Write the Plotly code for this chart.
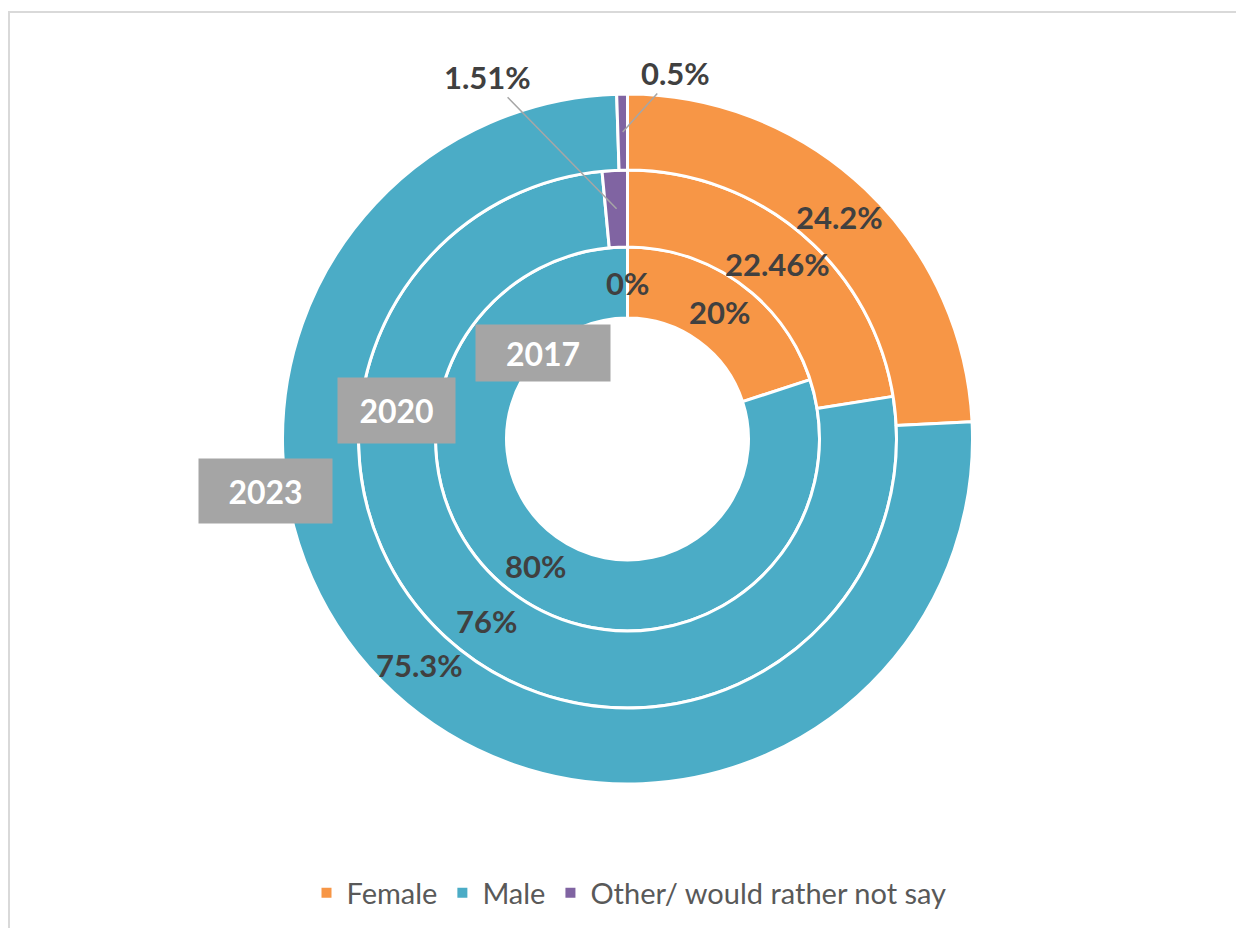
import numpy as np
import plotly.graph_objects as go

# data
categories = ["Female", "Male", "Other/ would rather not say"]
years = ["2017", "2020", "2023"]
share_2017 = [20, 80, 0]
share_2020 = [22.46, 76, 1.51]
share_2023 = [24.2, 75.3, 0.5]

colors = ["#F79646", "#4BACC6", "#8064A2"]

W, H = 1244, 928
OFF = 8                      # the page body adds an 8px margin
CX, CY = 627.5 - OFF, 439 - OFF   # centre of the rings, px
edges = [121, 192, 269, 345]  # hole, ring boundaries, px

LABEL_FONT = dict(family="Lato", size=31, color="#404040")


def px_x(x):
    return x / W


def px_y(y):
    return 1 - y / H


fig = go.Figure()

all_shares = [share_2017, share_2020, share_2023]
for i, (year, vals) in enumerate(zip(years, all_shares)):
    r_in, r_out = edges[i], edges[i + 1]
    fig.add_trace(go.Pie(
        labels=categories, values=vals, name=year,
        sort=False, direction="clockwise", rotation=0,
        hole=r_in / r_out,
        marker=dict(colors=colors, line=dict(color="white", width=3)),
        textinfo="none", hoverinfo="label+value",
        domain=dict(x=[px_x(CX - r_out), px_x(CX + r_out)],
                    y=[px_y(CY + r_out), px_y(CY - r_out)]),
    ))

# data labels, placed at the middle of each slice
# (small slices get a label outside with a leader line)
outside_offsets = {(1, 2): (-129, -132), (2, 2): (53, -59)}
for i, vals in enumerate(all_shares):
    r_mid = (edges[i] + edges[i + 1]) / 2
    total = sum(vals)
    cum = np.cumsum(vals)
    for j, v in enumerate(vals):
        ang = np.radians((cum[j] - v / 2) / total * 360)
        x = CX + r_mid * np.sin(ang)
        y = CY - r_mid * np.cos(ang)
        txt = f"<b>{v:g}%</b>"
        if (i, j) in outside_offsets:
            ax, ay = outside_offsets[(i, j)]
            fig.add_annotation(x=px_x(x), y=px_y(y), xref="paper", yref="paper",
                               text=txt, showarrow=True, arrowhead=0,
                               arrowwidth=1.5, arrowcolor="#A6A6A6",
                               ax=ax, ay=ay, font=LABEL_FONT)
        else:
            fig.add_annotation(x=px_x(x), y=px_y(y), xref="paper", yref="paper",
                               xanchor="center", yanchor="middle",
                               text=txt, showarrow=False, font=LABEL_FONT)

# year tags
tag_boxes = {"2017": (543, 353, 134, 56), "2020": (396, 411, 117, 65), "2023": (265, 491, 133, 64)}
for year in years:
    x, y, w, h = tag_boxes[year]
    fig.add_annotation(x=px_x(x - OFF), y=px_y(y - OFF), xref="paper", yref="paper",
                       xanchor="center", yanchor="middle",
                       text=f"<b>{year}</b>", showarrow=False,
                       width=w, height=h, borderpad=0, bgcolor="#A5A5A5",
                       font=dict(family="Lato", size=32, color="white"))

# chart frame (only left and top edges are inside the picture)
fig.add_shape(type="rect", xref="paper", yref="paper",
              x0=px_x(9 - OFF), x1=1.02, y0=-0.02, y1=px_y(12 - OFF),
              line=dict(color="#D9D9D9", width=2), layer="below")

fig.update_layout(
    width=W, height=H,
    margin=dict(l=0, r=0, t=0, b=0, autoexpand=False),
    paper_bgcolor="white", plot_bgcolor="white",
    showlegend=True,
    legend=dict(orientation="h", x=px_x(629 - OFF), xanchor="center",
                y=px_y(893 - OFF), yanchor="middle",
                font=dict(family="Lato", size=29, color="#595959"),
                itemsizing="constant", bgcolor="rgba(0,0,0,0)"),
)

fig.write_html("out.html")
